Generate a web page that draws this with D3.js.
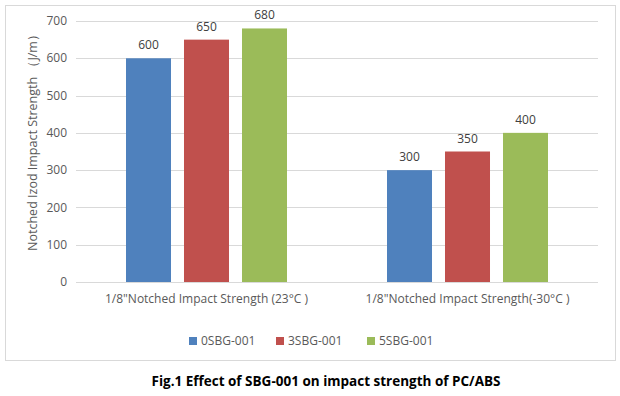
<!DOCTYPE html>
<html>
<head>
<meta charset="utf-8">
<script src="https://d3js.org/d3.v7.min.js"></script>
<style>
  body { margin: 0; background: #fff; }
  text { font-family: "Open Sans", "DejaVu Sans", sans-serif; }
</style>
</head>
<body>
<div id="chart"></div>
<script>
// data
var categories = ["1/8\"Notched Impact Strength (23°C )", "1/8\"Notched Impact Strength(-30°C )"];
var series = ["0SBG-001", "3SBG-001", "5SBG-001"];
var colors = ["#4f81bd", "#c0504d", "#9bbb59"];
var values = [
  [600, 300],
  [650, 350],
  [680, 400]
];
var yTicks = [0, 100, 200, 300, 400, 500, 600, 700];

var W = 620, H = 396;
var margin = {top: 21, right: 22, bottom: 114, left: 76};
var width = W - margin.left - margin.right,
    height = H - margin.top - margin.bottom;

var svg = d3.select("#chart").append("svg")
    .attr("width", W)
    .attr("height", H);

// outer frame
svg.append("rect")
    .attr("x", 5.5).attr("y", 5.5)
    .attr("width", 610).attr("height", 355)
    .attr("fill", "#fff")
    .attr("stroke", "#d9d9d9");

var g = svg.append("g")
    .attr("transform", "translate(" + margin.left + "," + margin.top + ")");

var groupW = 161;
var x0 = d3.scaleBand().domain(categories).range([0, width]);
var x1 = d3.scaleBand().domain(series).range([0, groupW]).paddingInner(0.224);
var y = d3.scaleLinear().domain([0, 700]).range([height, 0]);

// gridlines
g.append("g")
    .selectAll("line")
    .data(yTicks)
    .enter().append("line")
    .attr("x1", 0).attr("x2", width)
    .attr("y1", function(d) { return Math.round(y(d)) + 0.5; })
    .attr("y2", function(d) { return Math.round(y(d)) + 0.5; })
    .attr("stroke", "#d9d9d9");

// y tick labels
g.append("g")
    .selectAll("text")
    .data(yTicks)
    .enter().append("text")
    .attr("x", -9)
    .attr("y", function(d) { return y(d); })
    .attr("dy", "0.35em")
    .attr("text-anchor", "end")
    .attr("font-size", "12px")
    .attr("fill", "#595959")
    .text(function(d) { return d; });

// bars
series.forEach(function(s, i) {
  var grp = g.append("g");
  categories.forEach(function(c, j) {
    var bx = x0(c) + x0.bandwidth() / 2 - groupW / 2 + x1(s);
    grp.append("rect")
        .attr("x", bx)
        .attr("y", y(values[i][j]))
        .attr("width", x1.bandwidth())
        .attr("height", height - y(values[i][j]))
        .attr("fill", colors[i]);
    grp.append("text")
        .attr("x", bx + x1.bandwidth() / 2)
        .attr("y", y(values[i][j]) - 9)
        .attr("text-anchor", "middle")
        .attr("font-size", "12px")
        .attr("fill", "#404040")
        .text(values[i][j]);
  });
});

// category labels
g.append("g")
    .selectAll("text")
    .data(categories)
    .enter().append("text")
    .attr("x", function(d) { return x0(d) + x0.bandwidth() / 2; })
    .attr("y", height + 21)
    .attr("text-anchor", "middle")
    .attr("font-size", "12px")
    .attr("fill", "#595959")
    .text(function(d) { return d; });

// y axis title
svg.append("text")
    .attr("transform", "translate(37," + (margin.top + height / 2 - 12) + ") rotate(-90)")
    .attr("text-anchor", "middle")
    .attr("font-size", "12.5px")
    .attr("fill", "#595959")
    .text("Notched Izod Impact Strength （J/m）");

// legend
var legendX = [189, 276, 367];
var legend = svg.append("g");
series.forEach(function(s, i) {
  legend.append("rect")
      .attr("x", legendX[i]).attr("y", 337)
      .attr("width", 8).attr("height", 8)
      .attr("fill", colors[i]);
  legend.append("text")
      .attr("x", legendX[i] + 12).attr("y", 341)
      .attr("dy", "0.35em")
      .attr("font-size", "12px")
      .attr("fill", "#595959")
      .text(s);
});

// caption
svg.append("text")
    .attr("x", 326).attr("y", 386)
    .attr("text-anchor", "middle")
    .attr("font-weight", "bold")
    .attr("font-size", "13.5px")
    .attr("fill", "#000")
    .text("Fig.1 Effect of SBG-001 on impact strength of PC/ABS");
</script>
</body>
</html>
